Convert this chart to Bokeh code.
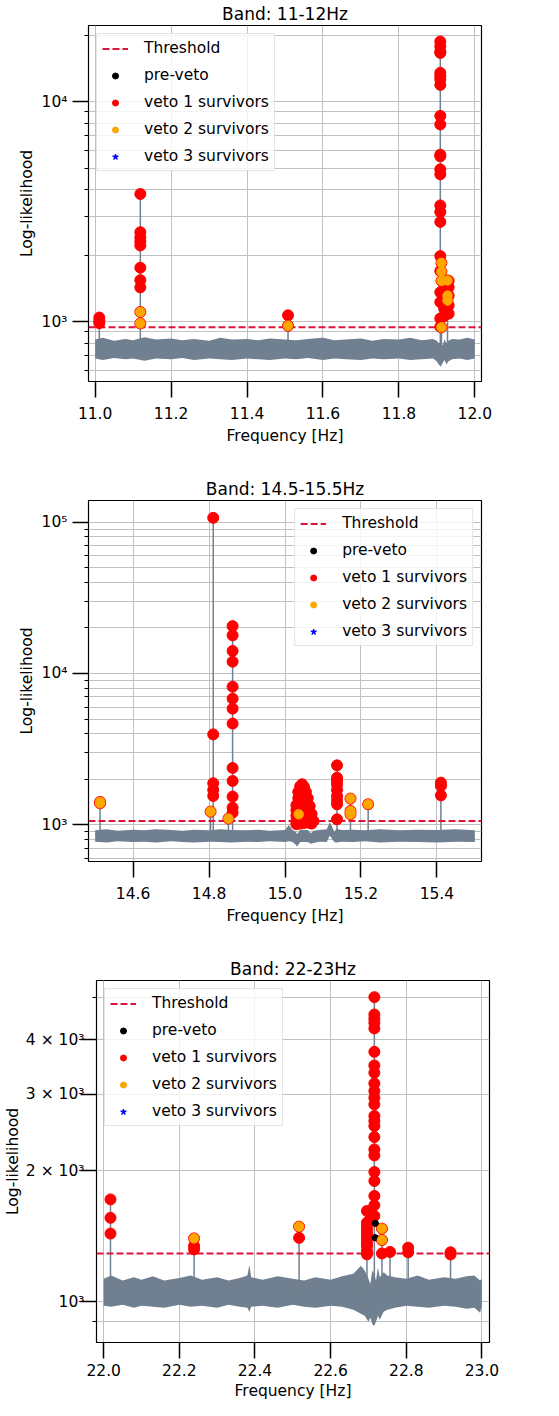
from bokeh.plotting import figure
from bokeh.models import (Range1d, FixedTicker, Legend, LegendItem, PrintfTickFormatter,
                          CustomJSTickFormatter, Title)
from bokeh.layouts import column
from bokeh.embed import file_html
from bokeh.resources import INLINE

FONT = "DejaVu Sans"
GRAY = "#708090"
NAN = float("nan")

# ---------------- Panel 1: 11-12 Hz ----------------
p1_title = "Band: 11-12Hz"
p1_xticks = [11.0, 11.2, 11.4, 11.6, 11.8, 12.0]
p1_ymajor = [1000, 10000]
p1_yminor = [600, 700, 800, 900, 2000, 3000, 4000, 5000, 6000, 7000, 8000, 9000, 20000]
p1_thr = 943
p1_band_f = [11.0, 11.02, 11.05, 11.08, 11.1, 11.13, 11.16, 11.2, 11.23, 11.26, 11.3, 11.33, 11.36,
             11.4, 11.43, 11.46, 11.5, 11.53, 11.56, 11.6, 11.63, 11.66, 11.7, 11.73, 11.76, 11.8,
             11.83, 11.86, 11.89, 11.9, 11.905, 11.91, 11.915, 11.92, 11.925, 11.93, 11.94, 11.96,
             11.98, 12.0]
p1_band_hi = [830, 845, 820, 835, 825, 850, 830, 840, 825, 835, 820, 845, 830, 835, 825, 840, 830, 825,
              835, 845, 825, 830, 840, 820, 835, 830, 845, 825, 835, 820, 800, 810, 780, 830, 800, 820,
              835, 830, 845, 830]
p1_band_lo = [680, 670, 685, 675, 680, 665, 680, 675, 685, 670, 680, 675, 670, 680, 675, 670, 680, 675,
              685, 670, 680, 675, 670, 680, 675, 680, 670, 675, 680, 660, 640, 625, 650, 670, 640, 660,
              675, 680, 670, 680]
p1_base = 760
p1_spike_f = [11.011, 11.119, 11.508, 11.909, 11.912, 11.928]
p1_spike_top = [1045, 3811, 1070, 18800, 1853, 1540]
p1_v1_f = [11.011, 11.011, 11.011,
           11.119, 11.119, 11.119, 11.119, 11.119, 11.119, 11.119, 11.119,
           11.508,
           11.909, 11.909, 11.909, 11.909, 11.909, 11.909, 11.909, 11.909, 11.909,
           11.909, 11.909, 11.909, 11.909, 11.909, 11.909, 11.909, 11.909, 11.909,
           11.909, 11.909, 11.909, 11.909, 11.909,
           11.919, 11.919, 11.919,
           11.931, 11.931, 11.931, 11.931, 11.931]
p1_v1_y = [1045, 1010, 985,
           3811, 2553, 2420, 2320, 2223, 1761, 1546, 1433,
           1070,
           18800, 17870, 16950, 16680, 13550, 13120, 12650, 11940, 8630,
           7890, 5750, 5650, 4930, 4680, 3380, 3155, 2845, 1988,
           1701, 1361, 1228, 1035, 950,
           1480, 1150, 1060,
           1535, 1434, 1315, 1186, 1089]
p1_v2_f = [11.119, 11.119, 11.508, 11.912, 11.912, 11.912, 11.912, 11.928, 11.928, 11.928]
p1_v2_y = [1108, 983, 959, 1853, 1690, 1535, 943, 1540, 1315, 1249]
p1_v3_f = []
p1_v3_y = []
p1_pre_f = []
p1_pre_y = []

# ---------------- Panel 2: 14.5-15.5 Hz ----------------
p2_title = "Band: 14.5-15.5Hz"
p2_xticks = [14.6, 14.8, 15.0, 15.2, 15.4]
p2_ymajor = [1000, 10000, 100000]
p2_yminor = [600, 700, 800, 900, 2000, 3000, 4000, 5000, 6000, 7000, 8000, 9000,
             20000, 30000, 40000, 50000, 60000, 70000, 80000, 90000]
p2_thr = 1062
p2_band_f = [14.5, 14.53, 14.56, 14.6, 14.63, 14.66, 14.7, 14.73, 14.76, 14.8, 14.83, 14.86, 14.9,
             14.93, 14.96, 15.0, 15.01, 15.02, 15.028, 15.032, 15.04, 15.06, 15.068, 15.075, 15.09,
             15.11, 15.118, 15.125, 15.13, 15.135, 15.15, 15.18, 15.21, 15.25, 15.3, 15.35, 15.4,
             15.45, 15.5]
p2_band_hi = [920, 935, 915, 930, 920, 935, 925, 915, 930, 920, 935, 925, 920, 930, 915, 925, 1000,
              925, 900, 870, 930, 925, 880, 915, 925, 935, 1040, 960, 900, 940, 925, 930, 920, 935,
              920, 930, 925, 935, 920]
p2_band_lo = [775, 765, 780, 770, 775, 765, 780, 770, 765, 775, 770, 765, 775, 770, 780, 770, 780,
              770, 740, 720, 770, 770, 750, 760, 775, 770, 850, 800, 770, 765, 775, 770, 780, 765,
              775, 770, 765, 775, 770]
p2_base = 850
p2_spike_f = [14.513, 14.804, 14.811, 14.851, 14.862, 15.137, 15.1725, 15.219, 15.4106]
p2_spike_top = [1419, 1224, 106700, 1100, 20560, 2473, 1492, 1368, 1901]
p2_v1_f = [14.811, 14.811, 14.811, 14.811, 14.811,
           14.862, 14.862, 14.862, 14.862, 14.862, 14.862, 14.862, 14.862, 14.862, 14.862,
           14.862, 14.862, 14.862,
           15.030, 15.030, 15.030, 15.030, 15.030,
           15.035, 15.035, 15.035, 15.035, 15.035, 15.035,
           15.040, 15.040, 15.040, 15.040, 15.040, 15.040, 15.040,
           15.045, 15.045, 15.045, 15.045, 15.045, 15.045, 15.045,
           15.050, 15.050, 15.050, 15.050, 15.050, 15.050, 15.050,
           15.055, 15.055, 15.055, 15.055, 15.055, 15.055,
           15.060, 15.060, 15.060, 15.060, 15.060,
           15.065, 15.065, 15.065, 15.065,
           15.070, 15.070, 15.070,
           15.075,
           15.137, 15.137, 15.137, 15.137, 15.137, 15.137, 15.137, 15.137, 15.137,
           15.4106, 15.4106, 15.4106]
p2_v1_y = [106700, 3960, 1883, 1700, 1553,
           20560, 17860, 14100, 11970, 8180, 6820, 5860, 4670, 2377, 1950,
           1538, 1301, 1205,
           1350, 1250, 1150, 1060, 1010,
           1650, 1500, 1380, 1260, 1150, 1040,
           1800, 1650, 1500, 1360, 1230, 1100, 1020,
           1855, 1700, 1560, 1420, 1290, 1160, 1050,
           1780, 1640, 1500, 1370, 1240, 1120, 1030,
           1650, 1520, 1390, 1260, 1140, 1040,
           1500, 1380, 1260, 1150, 1050,
           1330, 1220, 1120, 1030,
           1180, 1090, 1020,
           1060,
           2473, 2050, 1950, 1850, 1700, 1550, 1450, 1368, 1089,
           1901, 1808, 1567]
p2_v2_f = [14.513, 14.513, 14.804, 14.851, 15.036, 15.1725, 15.1725, 15.1725, 15.219]
p2_v2_y = [1419, 1390, 1224, 1100, 1175, 1492, 1237, 1175, 1368]
p2_v3_f = []
p2_v3_y = []
p2_pre_f = []
p2_pre_y = []

# ---------------- Panel 3: 22-23 Hz ----------------
p3_title = "Band: 22-23Hz"
p3_xticks = [22.0, 22.2, 22.4, 22.6, 22.8, 23.0]
p3_ymajor = [1000, 2000, 3000, 4000]
p3_yminor = [900, 5000]
p3_thr = 1291
p3_band_f = [22.0, 22.02, 22.05, 22.08, 22.1, 22.13, 22.16, 22.2, 22.23, 22.26, 22.3, 22.33, 22.36,
             22.38, 22.385, 22.39, 22.42, 22.46, 22.5, 22.53, 22.56, 22.6, 22.63, 22.66, 22.68,
             22.69, 22.70, 22.705, 22.71, 22.715, 22.72, 22.725, 22.73, 22.74, 22.75, 22.77, 22.8,
             22.83, 22.86, 22.9, 22.93, 22.96, 22.98, 22.995, 23.0]
p3_band_hi = [1130, 1150, 1120, 1140, 1125, 1145, 1120, 1135, 1150, 1125, 1140, 1120, 1135, 1150,
              1215, 1140, 1125, 1145, 1130, 1120, 1140, 1125, 1145, 1160, 1210, 1180, 1130, 1100,
              1180, 1160, 1120, 1200, 1140, 1170, 1150, 1140, 1130, 1150, 1125, 1140, 1130, 1145,
              1150, 1120, 1130]
p3_band_lo = [980, 975, 985, 970, 980, 975, 970, 985, 975, 980, 970, 985, 975, 970, 950, 975, 980,
              970, 985, 975, 970, 980, 975, 960, 940, 930, 900, 920, 890, 880, 900, 930, 910, 950,
              960, 970, 980, 975, 970, 980, 975, 965, 970, 945, 975]
p3_base = 1050
p3_spike_f = [22.018, 22.239, 22.5166, 22.696, 22.7156, 22.7357, 22.757, 22.805, 22.917]
p3_spike_top = [1719, 1399, 1489, 1617, 5006, 1473, 1302, 1332, 1300]
p3_v1_f = [22.018, 22.018, 22.018,
           22.239, 22.239,
           22.5166,
           22.696, 22.696, 22.696, 22.696, 22.696, 22.696, 22.696, 22.696, 22.696, 22.696, 22.696,
           22.706,
           22.7156, 22.7156, 22.7156, 22.7156, 22.7156, 22.7156, 22.7156, 22.7156, 22.7156,
           22.7156, 22.7156, 22.7156, 22.7156, 22.7156, 22.7156, 22.7156, 22.7156, 22.7156,
           22.7156, 22.7156, 22.7156, 22.7156, 22.7156,
           22.7357, 22.757, 22.805, 22.805, 22.917, 22.917]
p3_v1_y = [1719, 1560, 1435,
           1344, 1320,
           1403,
           1617, 1520, 1490, 1467, 1440, 1417, 1390, 1365, 1344, 1310, 1286,
           1560,
           5006, 4567, 4465, 4372, 4243, 3750, 3489, 3357, 3173,
           3048, 2942, 2840, 2671, 2601, 2533, 2390, 2239, 2169,
           1987, 1895, 1751, 1666, 1575,
           1292, 1302, 1332, 1300, 1300, 1285]
p3_v2_f = [22.239, 22.5166, 22.7357, 22.7357]
p3_v2_y = [1399, 1489, 1473, 1387]
p3_v3_f = []
p3_v3_y = []
p3_pre_f = [22.718, 22.718]
p3_pre_y = [1515, 1404]

SUPER = """
const m = {1000: '10\u00b3', 10000: '10\u2074', 100000: '10\u2075',
           2000: '2 \u00d7 10\u00b3', 3000: '3 \u00d7 10\u00b3', 4000: '4 \u00d7 10\u00b3'};
const k = Math.round(tick);
return (k in m) ? m[k] : '';
"""


def side_title(text, size, standoff):
    return Title(text=text, align="center", text_font=FONT, text_font_size=size,
                 text_font_style="normal", text_color="black", standoff=standoff)


def make_panel(title, xr, yr, xticks, ymaj, ymin, band_f, band_lo, band_hi, base, spk_f, spk_top,
               thr, pre_f, pre_y, v1_f, v1_y, v2_f, v2_y, v3_f, v3_y, legend_loc,
               shift, mbr, height, mbl, mbt, mbb, ystand, ylab_standoff, xstand, xlab_standoff):
    p = figure(width=543, height=height, x_range=Range1d(*xr), y_range=Range1d(*yr),
               y_axis_type="log", output_backend="svg", toolbar_location=None,
               min_border_left=mbl, min_border_right=mbr, min_border_top=mbt,
               min_border_bottom=mbb, margin=(0, 0, 0, shift))
    p.outline_line_color = "black"
    p.outline_line_width = 1.2
    p.background_fill_color = "white"
    p.border_fill_color = "white"

    xt = FixedTicker(ticks=xticks, minor_ticks=[])
    yt = FixedTicker(ticks=ymaj, minor_ticks=ymin)
    xa = p.xaxis[0]
    ya = p.yaxis[0]
    xa.ticker = xt
    p.xgrid[0].ticker = xt
    ya.ticker = yt
    p.ygrid[0].ticker = yt
    xa.formatter = PrintfTickFormatter(format="%.1f")
    ya.formatter = CustomJSTickFormatter(code=SUPER)
    for ax in (xa, ya):
        ax.axis_label = None
        ax.axis_line_color = None
        ax.major_tick_line_color = "black"
        ax.major_tick_line_width = 1.5
        ax.major_tick_out = 16
        ax.major_tick_in = 0
        ax.minor_tick_line_color = "black"
        ax.minor_tick_line_width = 1
        ax.minor_tick_out = 4
        ax.minor_tick_in = 0
        ax.major_label_text_font = FONT
        ax.major_label_text_font_size = "15.5px"
        ax.major_label_text_color = "black"
    xa.minor_tick_line_color = None
    xa.major_label_standoff = xstand
    ya.major_label_standoff = ystand
    p.xgrid.grid_line_color = "#c0c0c0"
    p.ygrid.grid_line_color = "#c0c0c0"
    p.ygrid.minor_grid_line_color = "#c0c0c0"

    # title and axis labels as Bokeh titles in the side panels
    p.title.text = title
    p.title.text_font = FONT
    p.title.text_font_size = "17px"
    p.title.text_font_style = "normal"
    p.title.text_color = "black"
    p.title.align = "center"
    p.title.standoff = 3
    p.add_layout(side_title("Frequency [Hz]", "15.5px", xlab_standoff), "below")
    p.add_layout(side_title("Log-likelihood", "15.5px", ylab_standoff), "left")

    # background noise band and spikes
    p.varea(x=band_f, y1=band_lo, y2=band_hi, fill_color=GRAY)
    p.segment(x0=spk_f, y0=[base] * len(spk_f), x1=spk_f, y1=spk_top,
              line_color=GRAY, line_width=1.5)

    thr_r = p.line(x=[xr[0], xr[1]], y=[thr, thr], line_color="#dc143c", line_width=2,
                   line_dash="7 3")
    all_pre_f = list(v1_f) + list(v2_f) + list(pre_f)
    all_pre_y = list(v1_y) + list(v2_y) + list(pre_y)
    red_f = list(v1_f) + list(v2_f)
    red_y = list(v1_y) + list(v2_y)
    pre_r = p.scatter(x=all_pre_f, y=all_pre_y, size=6, marker="circle",
                      fill_color="black", line_color="black")
    red_r = p.scatter(x=red_f, y=red_y, size=11, marker="circle",
                      fill_color="red", line_color="red")
    p.scatter(x=pre_f, y=pre_y, size=6, marker="circle", fill_color="black", line_color="black")
    org_r = p.scatter(x=v2_f, y=v2_y, size=9.5, marker="circle",
                      fill_color="orange", line_color="orange")
    # veto 3 has no survivors; a NaN placeholder keeps the legend glyph visible
    s3x = list(v3_f) if v3_f else [NAN]
    s3y = list(v3_y) if v3_y else [NAN]
    star_r = p.scatter(x=s3x, y=s3y, size=16, marker="star",
                       fill_color="blue", line_color="blue")

    legend = Legend(items=[
        LegendItem(label="Threshold", renderers=[thr_r]),
        LegendItem(label="pre-veto", renderers=[pre_r]),
        LegendItem(label="veto 1 survivors", renderers=[red_r]),
        LegendItem(label="veto 2 survivors", renderers=[org_r]),
        LegendItem(label="veto 3 survivors", renderers=[star_r]),
    ], location=legend_loc)
    legend.label_text_font = FONT
    legend.label_text_font_size = "15.5px"
    legend.label_text_color = "black"
    legend.glyph_width = 26
    legend.glyph_height = 15
    legend.label_height = 15
    legend.label_standoff = 16
    legend.spacing = 9
    legend.padding = 5
    legend.margin = 8
    legend.border_line_color = "#cccccc"
    legend.border_line_width = 1
    legend.background_fill_color = "white"
    legend.background_fill_alpha = 0.8
    p.add_layout(legend)
    return p


# figure 1: page y 8..470, figure 2: 470..940, figure 3: 940..1408
p1 = make_panel(p1_title, (10.9825, 12.0175), (535, 22230), p1_xticks, p1_ymajor, p1_yminor,
                p1_band_f, p1_band_lo, p1_band_hi, p1_base, p1_spike_f, p1_spike_top, p1_thr,
                p1_pre_f, p1_pre_y, p1_v1_f, p1_v1_y, p1_v2_f, p1_v2_y, p1_v3_f, p1_v3_y,
                "top_left", -8, 46, 462, 75, 19, 81, 5, 6, 9, 6)
p2 = make_panel(p2_title, (14.4825, 15.5175), (573, 138900), p2_xticks, p2_ymajor, p2_yminor,
                p2_band_f, p2_band_lo, p2_band_hi, p2_base, p2_spike_f, p2_spike_top, p2_thr,
                p2_pre_f, p2_pre_y, p2_v1_f, p2_v1_y, p2_v2_f, p2_v2_y, p2_v3_f, p2_v3_y,
                "top_right", -8, 46, 470, 75, 38, 71, 5, 6, 9, 6)
p3 = make_panel(p3_title, (21.981, 23.02), (807, 5466), p3_xticks, p3_ymajor, p3_yminor,
                p3_band_f, p3_band_lo, p3_band_hi, p3_base, p3_spike_f, p3_spike_top, p3_thr,
                p3_pre_f, p3_pre_y, p3_v1_f, p3_v1_y, p3_v2_f, p3_v2_y, p3_v3_f, p3_v3_y,
                "top_left", 0, 54, 468, 91, 48, 58, -4, 2, 5, 2)

layout = column(p1, p2, p3, spacing=0)
open("out.html", "w").write(file_html(layout, INLINE))
